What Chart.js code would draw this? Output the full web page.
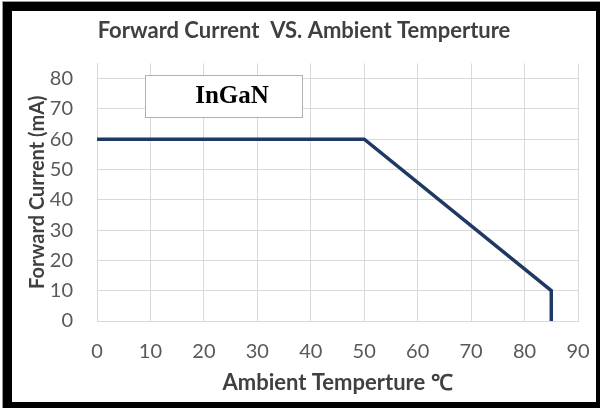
<!DOCTYPE html>
<html>
<head>
<meta charset="utf-8">
<script src="https://cdn.jsdelivr.net/npm/chart.js@4"></script>
<style>
  html, body { margin: 0; padding: 0; background: #fff; }
  #wrap { position: relative; width: 600px; height: 408px; }
  #frame {
    position: absolute; left: 3px; top: 2px; width: 597px; height: 406px;
    box-sizing: border-box; pointer-events: none;
    border-style: solid; border-color: #000;
    border-width: 9px 4px 6px 9px;
    outline: 1px solid #999;
  }
  canvas { position: absolute; left: 0; top: 0; }
</style>
</head>
<body>
<div id="wrap">
  <canvas id="chart" width="600" height="408"></canvas>
  <div id="frame"></div>
</div>
<script>
// temperature (°C) vs max forward current (mA)
const temps = [0, 50, 85, 85];
const currents = [60, 60, 10, 0];
const yTicks = [0, 10, 20, 30, 40, 50, 60, 70, 80];
const seriesName = "InGaN";
const chartTitle = "Forward Current  VS. Ambient Temperture";
const xTitle = "Ambient Temperture ℃";
const yTitle = "Forward Current (mA)";

// box with the series name, like the label box in the original sheet
const nameBox = {
    id: 'nameBox',
    afterDraw(chart) {
        const ctx = chart.ctx;
        ctx.save();
        ctx.fillStyle = '#fff';
        ctx.strokeStyle = '#b0b0b0';
        ctx.lineWidth = 1;
        ctx.fillRect(145.5, 75.5, 157, 42);
        ctx.strokeRect(145.5, 75.5, 157, 42);
        ctx.fillStyle = '#000';
        ctx.font = 'bold 25px "Liberation Serif", serif';
        ctx.textAlign = 'center';
        ctx.textBaseline = 'middle';
        ctx.fillText(chart.data.datasets[0].label, 232, 97);
        ctx.restore();
    }
};

const points = temps.map((t, i) => ({ x: t, y: currents[i] }));

const ctx = document.getElementById('chart').getContext('2d');
new Chart(ctx, {
    type: 'line',
    data: {
        datasets: [{
            label: seriesName,
            data: points,
            borderColor: '#1f3864',
            borderWidth: 3.5,
            borderJoinStyle: 'miter',
            pointRadius: 0,
            tension: 0,
            fill: false
        }]
    },
    options: {
        responsive: false,
        animation: false,
        layout: { padding: { left: 30, right: 22, top: 0, bottom: 0 } },
        plugins: {
            legend: { display: false },
            tooltip: { enabled: false },
            title: {
                display: true,
                text: chartTitle,
                color: '#404040',
                font: { family: 'Lato', size: 22, weight: 'bold' },
                padding: { top: 18, bottom: 19 }
            }
        },
        scales: {
            x: {
                type: 'linear',
                min: 0,
                max: 90,
                ticks: {
                    stepSize: 10,
                    color: '#595959',
                    font: { family: 'Lato', size: 20 },
                    padding: 19,
                    maxRotation: 0
                },
                grid: { color: '#d9d9d9', drawTicks: false },
                border: { color: '#d9d9d9' },
                title: {
                    display: true,
                    text: xTitle,
                    color: '#404040',
                    font: { family: 'Lato', size: 22, weight: 'bold' },
                    padding: { top: 0, bottom: 12 }
                },
                afterFit(scale) {
                    scale.height = 87;
                    scale.paddingRight = 0;
                }
            },
            y: {
                min: 0,
                max: 85,
                ticks: {
                    color: '#595959',
                    font: { family: 'Lato', size: 20 },
                    padding: 24
                },
                afterBuildTicks(scale) {
                    scale.ticks = yTicks.map(v => ({ value: v }));
                },
                grid: { color: '#d9d9d9', drawTicks: false },
                border: { color: '#d9d9d9' },
                title: {
                    display: true,
                    text: yTitle,
                    color: '#404040',
                    font: { family: 'Lato', size: 20, weight: 'bold' },
                    padding: { top: -4, bottom: 0 }
                },
                afterFit(scale) { scale.width = 67; }
            }
        }
    },
    plugins: [nameBox]
});
</script>
</body>
</html>
